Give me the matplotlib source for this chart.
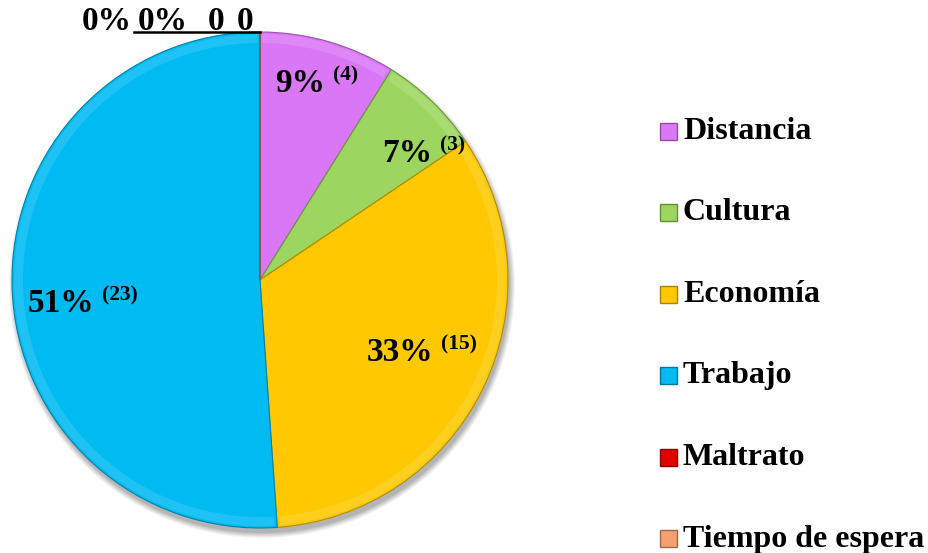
import matplotlib
matplotlib.use('Agg')
import matplotlib.pyplot as plt
import matplotlib.colors as mcolors
from matplotlib.patches import Circle, Rectangle, Wedge
import numpy as np

categories = ['Distancia', 'Cultura', 'Economía', 'Trabajo', 'Maltrato', 'Tiempo de espera']
counts = [4, 3, 15, 23, 0, 0]
colors = ['#D977F7', '#9CD65E', '#FFC800', '#00BAF2', '#E00000', '#F4A070']
zero_labels = ['0%', '0%', '0', '0']

plt.rcParams['font.family'] = ['Liberation Serif', 'DejaVu Serif']
plt.rcParams['font.weight'] = 'bold'


def shade(c, f):
    r, g, b = mcolors.to_rgb(c)
    return (r * f, g * f, b * f)


def tint(c, f):
    r, g, b = mcolors.to_rgb(c)
    return (r + (1 - r) * f, g + (1 - g) * f, b + (1 - b) * f)


fig = plt.figure(figsize=(9.29, 5.53), dpi=100)
ax = fig.add_axes([0, 0, 1, 1])

cx, cy, R = 260, 273, 248

# soft shadow
for k, a in zip(range(6), [0.04, 0.05, 0.05, 0.06, 0.06, 0.07]):
    ax.add_patch(Circle((cx + 2, cy - 5), R + 5 - k, color='black', alpha=a, lw=0, zorder=0))

wedges, _ = ax.pie(counts, colors=colors, startangle=90, counterclock=False,
                   center=(cx, cy), radius=R,
                   wedgeprops=dict(linewidth=0.8))
for w, c in zip(wedges, colors):
    w.set_edgecolor(shade(c, 0.7))
    w.set_zorder(2)
    # subtle bevel: lighter band just inside the rim
    if w.theta2 - w.theta1 > 0.01:
        ax.add_patch(Wedge((cx, cy), R - 2, w.theta1 + 0.6, w.theta2 - 0.6, width=9,
                           facecolor=tint(c, 0.12), lw=0, zorder=3))

ax.set_xlim(0, 929)
ax.set_ylim(0, 553)
ax.set_aspect('equal')
ax.axis('off')

total = sum(counts)
rfac = [0.845, 0.877, 0.77, 0.66]
dtheta = [-3.2, -10.0, 3.9, 5.9]
cum = 0
j = 0
for cnt in counts:
    start = cum
    cum += cnt
    if cnt == 0:
        continue
    mid = 90 - 360 * (start + cnt / 2) / total
    th = np.deg2rad(mid + dtheta[j])
    x = cx + R * rfac[j] * np.cos(th)
    y = cy + R * rfac[j] * np.sin(th)
    pct = round(100 * cnt / total)
    ax.text(x - 4, y - 1, f'{pct}%', ha='right', va='center', fontsize=24,
            fontweight='bold', zorder=5)
    ax.text(x + 4, y + 7, f'({cnt})', ha='left', va='center', fontsize=15.5,
            fontweight='bold', zorder=5)
    j += 1

# labels of zero slices at the top with leader line
top_y = cy + R
zx = [-178, -122, -52, -23]
for off, t in zip(zx, zero_labels):
    ax.text(cx + off, top_y + 11, t, ha='left', va='center', fontsize=24,
            fontweight='bold', zorder=5)
ax.plot([cx - 126, cx], [top_y, top_y], color='black', lw=1.8, zorder=5)

# legend
ly0 = 553 - 131
step = 81.6
for i, (cat, col) in enumerate(zip(categories, colors)):
    y = ly0 - i * step
    ax.add_patch(Rectangle((660, y - 8.5), 17, 17, facecolor=col,
                           edgecolor=shade(col, 0.65), lw=1.0, zorder=5))
    ax.text(683, y, cat, ha='left', va='center', fontsize=23,
            fontweight='bold', zorder=5)

fig.savefig('out.png', dpi=100)
